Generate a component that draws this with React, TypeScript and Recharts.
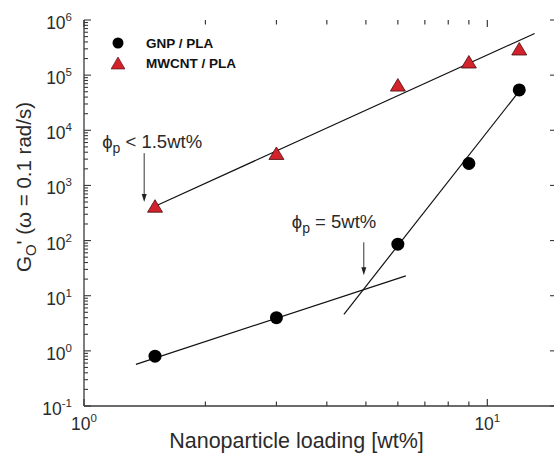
import {
    Label,
    Legend,
    ReferenceLine,
    Scatter,
    ScatterChart,
    XAxis,
    YAxis,
} from 'recharts';

// filler loading (wt%) and low-frequency storage modulus G0' (Pa)
const loadings = [1.5, 3, 6, 9, 12];
const gnpModulus = [0.8, 4.0, 86, 2500, 54000];
const mwcntModulus = [420, 3800, 66000, 173000, 298000];

// power-law fit segments
const mwcntFitX = [1.5, 13.1];
const mwcntFitY = [420, 570000];
const gnpBelowFitX = [1.345, 6.28];
const gnpBelowFitY = [0.57, 22.9];
const gnpAboveFitX = [4.41, 12.2];
const gnpAboveFitY = [4.6, 60000];

// percolation markers: x, arrow top, arrow tip
const mwcntArrow = [1.41, 3850, 500];
const gnpArrow = [4.94, 93, 23.5];

const xTicks = [1, 2, 3, 4, 5, 6, 7, 8, 9, 10];
const yExponents = [-1, 0, 1, 2, 3, 4, 5, 6];
const minorSteps = [2, 3, 4, 5, 6, 7, 8, 9];

const yMajor = yExponents.map((e) => Math.pow(10, e));
const yTicks = yExponents.flatMap((e) =>
    e < 6 ? [Math.pow(10, e), ...minorSteps.map((m) => m * Math.pow(10, e))] : [Math.pow(10, e)]
);

const pairs = (xs: number[], ys: number[]) => xs.map((x, i) => ({ x, y: ys[i] }));

const FONT = '"Liberation Sans", Arial, sans-serif';
const AXIS = '#3a3a3a';
const INK = '#2b2b2b';
const RED = '#d2222b';

const isMajor = (v: number) => {
    const e = Math.log10(v);
    return Math.abs(e - Math.round(e)) < 1e-6;
};

const Pow = ({ v }: { v: number }) => (
    <>
        10
        <tspan dy={-8} fontSize={11.5}>
            {Math.round(Math.log10(v))}
        </tspan>
    </>
);

const BottomLabel = ({ x, y, payload }: any) =>
    isMajor(payload.value) ? (
        <text x={x} y={y + 24} textAnchor="middle" fontFamily={FONT} fontSize={17.5} fill={INK}>
            <Pow v={payload.value} />
        </text>
    ) : (
        <g />
    );

const LeftLabel = ({ x, y, payload }: any) =>
    isMajor(payload.value) ? (
        <text x={x - 12} y={y + 9} textAnchor="end" fontFamily={FONT} fontSize={17.5} fill={INK}>
            <Pow v={payload.value} />
        </text>
    ) : (
        <g />
    );

// inward tick marks on the frame, drawn at each tick value's position
const XTickMark = ({ x1, y1, y2, major }: any) => {
    const top = Math.min(y1, y2);
    const bottom = Math.max(y1, y2);
    const len = major ? 7 : 4.5;
    return (
        <g stroke={AXIS} strokeWidth={1.2}>
            <line x1={x1} x2={x1} y1={bottom} y2={bottom - len} />
            <line x1={x1} x2={x1} y1={top} y2={top + len} />
        </g>
    );
};

const YTickMark = ({ x1, x2, y1, major }: any) => {
    const left = Math.min(x1, x2);
    const right = Math.max(x1, x2);
    return (
        <g stroke={AXIS} strokeWidth={1.1}>
            <line x1={left} x2={left + (major ? 7 : 4)} y1={y1} y2={y1} />
            {major && <line x1={right} x2={right - 6} y1={y1} y2={y1} />}
        </g>
    );
};

const Circle = ({ cx, cy }: any) => <circle cx={cx} cy={cy} r={6.5} fill="#000" />;

const Triangle = ({ cx, cy }: any) => (
    <polygon
        points={`${cx},${cy - 6.5} ${cx - 7.5},${cy + 6} ${cx + 7.5},${cy + 6}`}
        fill={RED}
        stroke="#4a0c0c"
        strokeWidth={0.8}
    />
);

const NoDot = () => <g />;

const Pointer = ({ x1, y1, x2, y2, sign, dx, dy }: any) => (
    <g>
        <line x1={x1} y1={y1} x2={x2} y2={y2 - 6} stroke="#333" strokeWidth={1} />
        <polygon points={`${x2 - 2.5},${y2 - 8} ${x2 + 2.5},${y2 - 8} ${x2},${y2}`} fill="#222" />
        <text x={x1 + dx} y={y1 + dy} fontFamily={FONT} fontSize={18.5} fill={INK}>
            ϕ
            <tspan dy={5} fontSize={14}>
                p
            </tspan>
            <tspan dy={-5}>{` ${sign}`}</tspan>
        </text>
    </g>
);

const LegendBox = () => (
    <div style={{ fontFamily: FONT, fontWeight: 700, fontSize: 13.5, color: '#111' }}>
        {[
            { name: 'GNP / PLA', icon: <circle cx={7} cy={10} r={5.5} fill="#000" /> },
            {
                name: 'MWCNT / PLA',
                icon: <polygon points="7,4 0,16 14,16" fill={RED} stroke="#4a0c0c" strokeWidth={0.6} />,
            },
        ].map((row) => (
            <div key={row.name} style={{ display: 'flex', alignItems: 'center', height: 20 }}>
                <svg width={14} height={20}>
                    {row.icon}
                </svg>
                <span style={{ marginLeft: 21 }}>{row.name}</span>
            </div>
        ))}
    </div>
);

const App = () => {
    return (
        <div
            style={{
                position: 'absolute',
                left: 0,
                top: 0,
                width: 554,
                height: 457,
                overflow: 'hidden',
                background: '#fff',
            }}
        >
            <ScatterChart width={560} height={457} margin={{ top: 20, right: 4, bottom: 0, left: 0 }}>
                <XAxis
                    type="number"
                    dataKey="x"
                    scale="log"
                    domain={[1, 14.8]}
                    allowDataOverflow
                    ticks={xTicks}
                    interval={0}
                    height={51}
                    tickSize={0}
                    tickMargin={0}
                    tickLine={false}
                    tick={<BottomLabel />}
                    axisLine={{ stroke: AXIS, strokeWidth: 1.3 }}
                >
                    <Label
                        content={() => (
                            <text x={296.5} y={448} textAnchor="middle" fontFamily={FONT} fontSize={21.5} fill={INK}>
                                Nanoparticle loading [wt%]
                            </text>
                        )}
                    />
                </XAxis>
                <XAxis
                    xAxisId="top"
                    orientation="top"
                    type="number"
                    dataKey="x"
                    scale="log"
                    domain={[1, 14.8]}
                    allowDataOverflow
                    height={0}
                    tick={false}
                    tickLine={false}
                    axisLine={{ stroke: AXIS, strokeWidth: 1.3 }}
                />
                <YAxis
                    type="number"
                    dataKey="y"
                    scale="log"
                    domain={[0.1, 1e6]}
                    allowDataOverflow
                    ticks={yTicks}
                    interval={0}
                    width={84}
                    tickSize={0}
                    tickMargin={0}
                    tickLine={false}
                    tick={<LeftLabel />}
                    axisLine={{ stroke: AXIS, strokeWidth: 1.3 }}
                >
                    <Label
                        content={() => (
                            <text
                                transform="translate(31,187) rotate(-90)"
                                textAnchor="middle"
                                fontFamily={FONT}
                                fontSize={20.5}
                                fill={INK}
                            >
                                G
                                <tspan dy={5} fontSize={15}>
                                    O
                                </tspan>
                                <tspan dy={-5}>{"' (ω = 0.1 rad/s)"}</tspan>
                            </text>
                        )}
                    />
                </YAxis>
                <YAxis
                    yAxisId="right"
                    orientation="right"
                    type="number"
                    dataKey="y"
                    scale="log"
                    domain={[0.1, 1e6]}
                    allowDataOverflow
                    width={0}
                    tick={false}
                    tickLine={false}
                    axisLine={{ stroke: AXIS, strokeWidth: 1.3 }}
                />

                {xTicks.map((v) => (
                    <ReferenceLine
                        key={`xt-${v}`}
                        x={v}
                        ifOverflow="visible"
                        shape={(p: any) => <XTickMark {...p} major={isMajor(v)} />}
                    />
                ))}
                {yTicks.map((v) => (
                    <ReferenceLine
                        key={`yt-${v}`}
                        y={v}
                        ifOverflow="visible"
                        shape={(p: any) => <YTickMark {...p} major={isMajor(v)} />}
                    />
                ))}

                <Scatter
                    data={pairs(mwcntFitX, mwcntFitY)}
                    line={{ stroke: '#111', strokeWidth: 1.2 }}
                    shape={NoDot}
                    legendType="none"
                    isAnimationActive={false}
                />
                <Scatter
                    data={pairs(gnpBelowFitX, gnpBelowFitY)}
                    line={{ stroke: '#111', strokeWidth: 1.2 }}
                    shape={NoDot}
                    legendType="none"
                    isAnimationActive={false}
                />
                <Scatter
                    data={pairs(gnpAboveFitX, gnpAboveFitY)}
                    line={{ stroke: '#111', strokeWidth: 1.2 }}
                    shape={NoDot}
                    legendType="none"
                    isAnimationActive={false}
                />

                <ReferenceLine
                    segment={[
                        { x: mwcntArrow[0], y: mwcntArrow[1] },
                        { x: mwcntArrow[0], y: mwcntArrow[2] },
                    ]}
                    shape={(p: any) => <Pointer {...p} sign="< 1.5wt%" dx={-42} dy={-5} />}
                />
                <ReferenceLine
                    segment={[
                        { x: gnpArrow[0], y: gnpArrow[1] },
                        { x: gnpArrow[0], y: gnpArrow[2] },
                    ]}
                    shape={(p: any) => <Pointer {...p} sign="= 5wt%" dx={-72} dy={-14} />}
                />

                <Scatter
                    name="GNP / PLA"
                    data={pairs(loadings, gnpModulus)}
                    shape={Circle}
                    isAnimationActive={false}
                />
                <Scatter
                    name="MWCNT / PLA"
                    data={pairs(loadings, mwcntModulus)}
                    shape={Triangle}
                    isAnimationActive={false}
                />

                <Legend
                    layout="vertical"
                    align="center"
                    verticalAlign="middle"
                    content={<LegendBox />}
                    wrapperStyle={{ left: 111, top: 33, width: 'auto' }}
                />
            </ScatterChart>
        </div>
    );
};

export default App;
